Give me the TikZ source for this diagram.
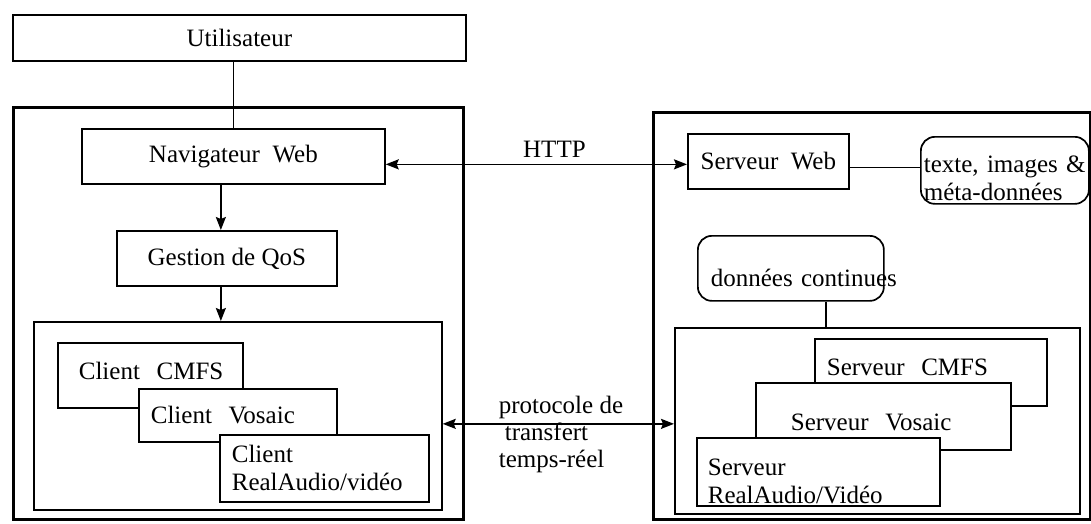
\documentclass[tikz,border=0pt]{standalone}
\usepackage{fontspec}
\setmainfont{Liberation Serif}
\usetikzlibrary{arrows.meta,positioning}

\begin{document}
\begin{tikzpicture}[x=1pt,y=-1pt,line width=1.7pt,
  font=\fontsize{25}{28}\selectfont,
  box/.style={draw,fill=white,anchor=north west,inner ysep=0pt},
  rbox/.style={box,rounded corners=14pt},
  frame/.style={draw,line width=3.4pt,anchor=north west,inner sep=0pt},
  >={Stealth[length=13pt,width=10pt,inset=2pt]}]
\useasboundingbox (0,0) rectangle (1091,523);
% client side (left)
\node[box,minimum width=453pt,minimum height=46pt] (util) at (12,14) {Utilisateur};
\node[frame,minimum width=450pt,minimum height=412pt] (clientside) at (12,106) {};
\node[box,minimum width=303pt,minimum height=55pt] (nav) at (81,128) {Navigateur~~Web};
\node[box,minimum width=220pt,minimum height=55pt] (qos) at (116,230) {Gestion de QoS};
\node[box,minimum width=408pt,minimum height=188pt] (clientmods) at (33,321) {};
\node[box,align=left,inner xsep=21pt,text width=143pt,minimum height=65pt,
  text height=17pt,text depth=8pt] (ccmfs) at (57,342) {Client~~CMFS};
\node[box,align=left,inner xsep=12pt,text width=174pt,minimum height=53pt] (cvosaic) at (138,388) {Client~~Vosaic};
\node[box,align=left,inner xsep=12pt,text width=185pt,minimum height=67pt] (creal) at (219,434) {Client\\RealAudio/vidéo};
% server side (right)
\node[frame,minimum width=437pt,minimum height=407pt] (serverside) at (652,111) {};
\node[box,minimum width=161pt,minimum height=55pt] (sweb) at (687,133) {Serveur~~Web};
\node[rbox,align=left,inner xsep=3pt,text width=162pt,minimum height=67pt,
  text height=28pt,text depth=23pt] (meta) at (920,136) {\mbox{texte, images \&}\\méta-données};
\node[rbox,align=left,inner xsep=13pt,text width=160pt,minimum height=65pt,
  text height=42pt,text depth=6pt,inner ysep=4pt] (cont) at (697,235) {\mbox{données continues}};
\node[box,minimum width=405pt,minimum height=186pt] (servermods) at (674,327) {};
\node[box,align=left,inner xsep=12pt,text width=208pt,minimum height=67pt,
  text height=19pt,text depth=12pt] (scmfs) at (814,338) {Serveur~~CMFS};
\node[box,align=left,inner xsep=35pt,text width=185pt,minimum height=67pt,
  text height=33pt,text depth=4pt] (svosaic) at (755,382) {Serveur~~Vosaic};
\node[box,align=left,inner xsep=11pt,text width=221pt,minimum height=68pt,
  text height=30pt,text depth=22pt] (sreal) at (696,437) {Serveur\\RealAudio/Vidéo};
% connectors
\draw (nav.north) -- (nav.north |- util.south);
\draw[->] ([xshift=-6pt]qos.north |- nav.south) -- ([xshift=-6pt]qos.north);
\draw[->] ([xshift=-6pt]qos.south) -- ([xshift=-6pt]qos.south |- clientmods.north);
\draw[<->] ([yshift=-8pt]nav.east) -- ([yshift=-8pt]nav.east -| sweb.west)
  node[pos=0.56,above=3pt] (http) {HTTP};
\draw ([yshift=-6pt]sweb.east) -- ([yshift=-6pt]sweb.east -| meta.west);
\draw ([xshift=35pt]cont.south) -- ([xshift=35pt]cont.south |- servermods.north);
\draw[<->] ([yshift=-8pt]clientmods.east) -- ([yshift=-8pt]clientmods.east -| servermods.west);
\node[anchor=north west,align=left,inner sep=0pt,font=\fontsize{25}{27}\selectfont] (proto) at (498,395)
  {protocole de\\\hspace*{6pt}transfert\\temps-réel};
\end{tikzpicture}
\end{document}
